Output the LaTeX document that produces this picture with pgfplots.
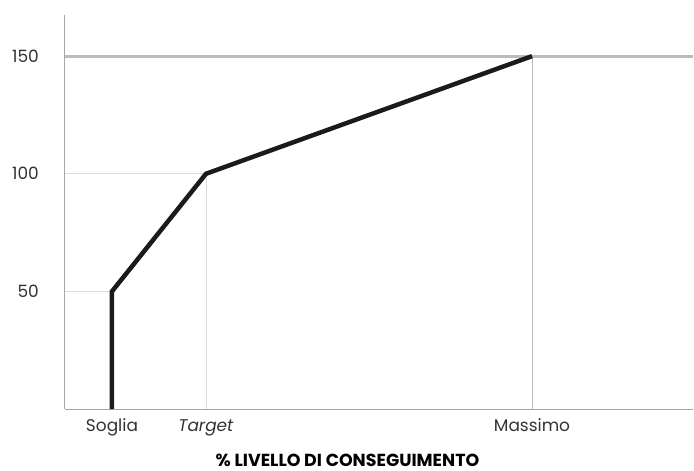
\documentclass[border=0pt]{standalone}
\usepackage{pgfplots}
\pgfplotsset{compat=1.18}
\usepackage{fontspec}
\setmainfont{Poppins}
\definecolor{axisgray}{HTML}{A6A6A6}
\definecolor{maxgray}{HTML}{BBBBBD}
\definecolor{gridgray}{HTML}{DCDCDC}
\definecolor{txt}{HTML}{333333}
\definecolor{curve}{HTML}{1C1A1A}
\begin{document}
\begin{tikzpicture}
\useasboundingbox (-65bp,-62bp) rectangle (629bp,409bp);
\begin{axis}[
  scale only axis,
  width=628bp, height=394bp,
  xmin=0, xmax=628, ymin=0, ymax=167.5,
  axis lines=left,
  axis line style={-, draw=axisgray, line width=1bp},
  major tick length=0pt,
  ytick={50,100,150},
  xtick={47,141,467},
  xticklabels={Soglia,\textit{Target},Massimo},
  ticklabel style={font=\fontsize{17}{19}\selectfont, text=txt},
  yticklabel style={inner sep=0pt, anchor=east, xshift=-26bp},
  xticklabel style={inner sep=0pt, anchor=base, yshift=-22bp},
  /pgf/number format/assume math mode=true,
  xlabel={\bfseries\% LIVELLO DI CONSEGUIMENTO},
  xlabel style={font=\fontsize{17.5}{20}\selectfont, text=black, inner sep=0pt, anchor=base, at={(axis cs:282.5,0)}, yshift=-57bp},
  clip=false,
]
\addplot[draw=gridgray, line width=1bp] coordinates {(0,50) (47,50)};
\addplot[draw=gridgray, line width=1bp] coordinates {(0,100) (141,100) (141,0)};
\addplot[draw=maxgray, line width=1bp] coordinates {(467,150) (467,0)};
\addplot[draw=maxgray, line width=3.2bp] coordinates {(0,150) (628,150)};
\addplot[draw=curve, line width=4.5bp, line join=miter, line cap=butt] coordinates {(47,0) (47,50) (141,100) (467,150)};
\end{axis}
\end{tikzpicture}
\end{document}
